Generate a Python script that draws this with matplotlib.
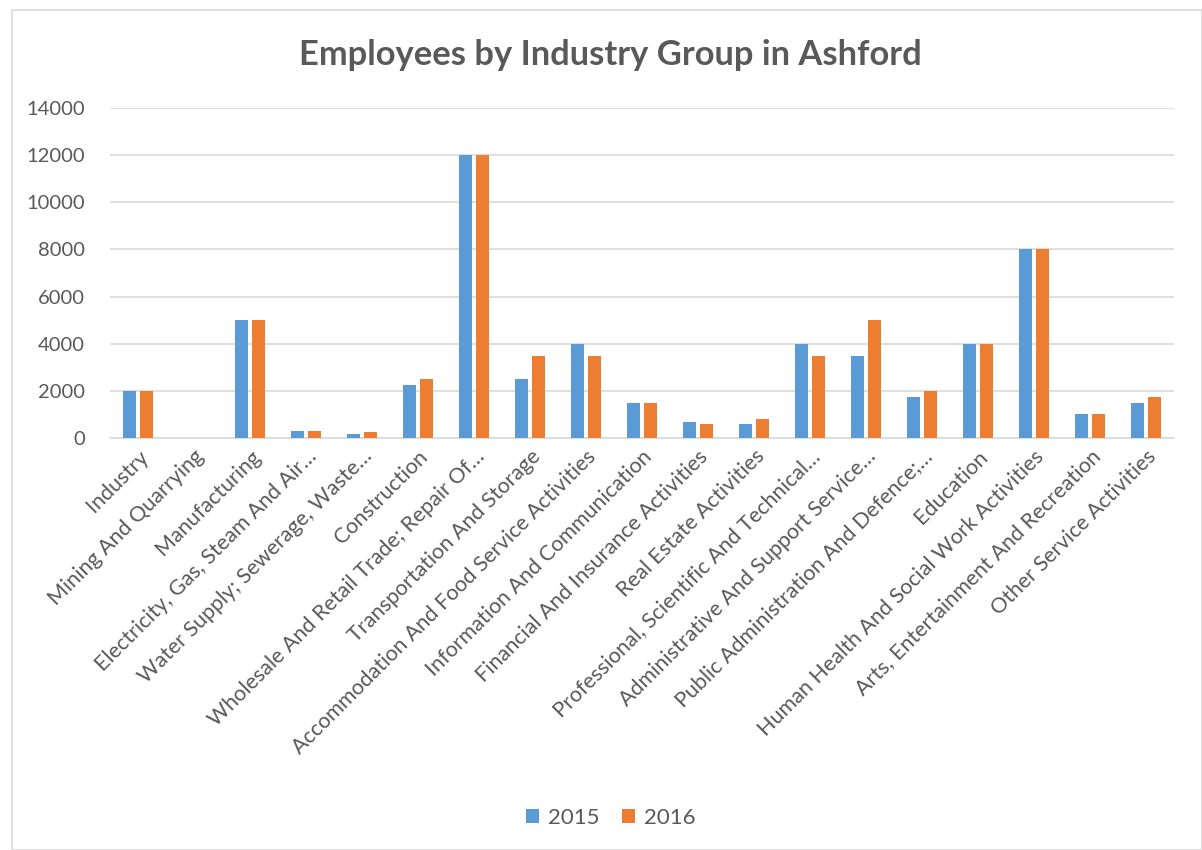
import numpy as np
from matplotlib import pyplot as plt
from matplotlib.patches import Rectangle

plt.rcParams['font.family'] = ['Lato', 'DejaVu Sans']

categories = ['Industry', 'Mining And Quarrying', 'Manufacturing',
              'Electricity, Gas, Steam And Air\u2026', 'Water Supply; Sewerage, Waste\u2026',
              'Construction', 'Wholesale And Retail Trade; Repair Of\u2026',
              'Transportation And Storage', 'Accommodation And Food Service Activities',
              'Information And Communication', 'Financial And Insurance Activities',
              'Real Estate Activities', 'Professional, Scientific And Technical\u2026',
              'Administrative And Support Service\u2026', 'Public Administration And Defence;\u2026',
              'Education', 'Human Health And Social Work Activities',
              'Arts, Entertainment And Recreation', 'Other Service Activities']
v2015 = [2000, 0, 5000, 300, 150, 2250, 12000, 2500, 4000, 1500, 700, 600,
         4000, 3500, 1750, 4000, 8000, 1000, 1500]
v2016 = [2000, 0, 5000, 300, 250, 2500, 12000, 3500, 3500, 1500, 600, 800,
         3500, 5000, 2000, 4000, 8000, 1000, 1750]
years = ['2015', '2016']

grey = '#595959'
fig = plt.figure(figsize=(12.02, 8.5), dpi=100)
fig.patches.append(Rectangle((12/1202, 0), 1 - 12/1202, 1 - 10/850, transform=fig.transFigure,
                             fill=False, edgecolor='#D9D9D9', linewidth=1.2))
ax = fig.add_axes([110/1202, 1 - 438/850, 1064/1202, 330/850])

x = np.arange(len(categories))
w = 0.245
ax.bar(x - 0.15, v2015, w, color='#5B9BD5', label=years[0], zorder=3)
ax.bar(x + 0.15, v2016, w, color='#ED7D31', label=years[1], zorder=3)

ax.set_xlim(-0.5, len(categories) - 0.5)
ax.set_ylim(0, 14000)
ax.set_yticks(np.arange(0, 14001, 2000))
ax.yaxis.grid(True, color='#D9D9D9', linewidth=1.2, zorder=0)
for s in ['top', 'right', 'left']:
    ax.spines[s].set_visible(False)
ax.spines['bottom'].set_color('#D9D9D9')
ax.spines['bottom'].set_linewidth(1.2)
ax.tick_params(length=0, colors=grey, labelsize=14.5)
ax.tick_params(axis='y', pad=18)
ax.tick_params(axis='x', pad=6)
ax.set_xticks(x)
ax.set_xticklabels(categories, rotation=45, ha='right', rotation_mode='anchor', fontsize=15.5)

fig.text(0.508, 1 - 55/850, 'Employees by Industry Group in Ashford', ha='center', va='center',
         fontsize=24.8, fontweight='bold', color=grey)
fig.legend(loc='center', bbox_to_anchor=(0.508, 1 - 818/850), ncol=2, frameon=False,
           fontsize=16, labelcolor=grey, handlelength=0.6, handleheight=0.6,
           columnspacing=1.0, handletextpad=0.4)

plt.savefig('out.png')
